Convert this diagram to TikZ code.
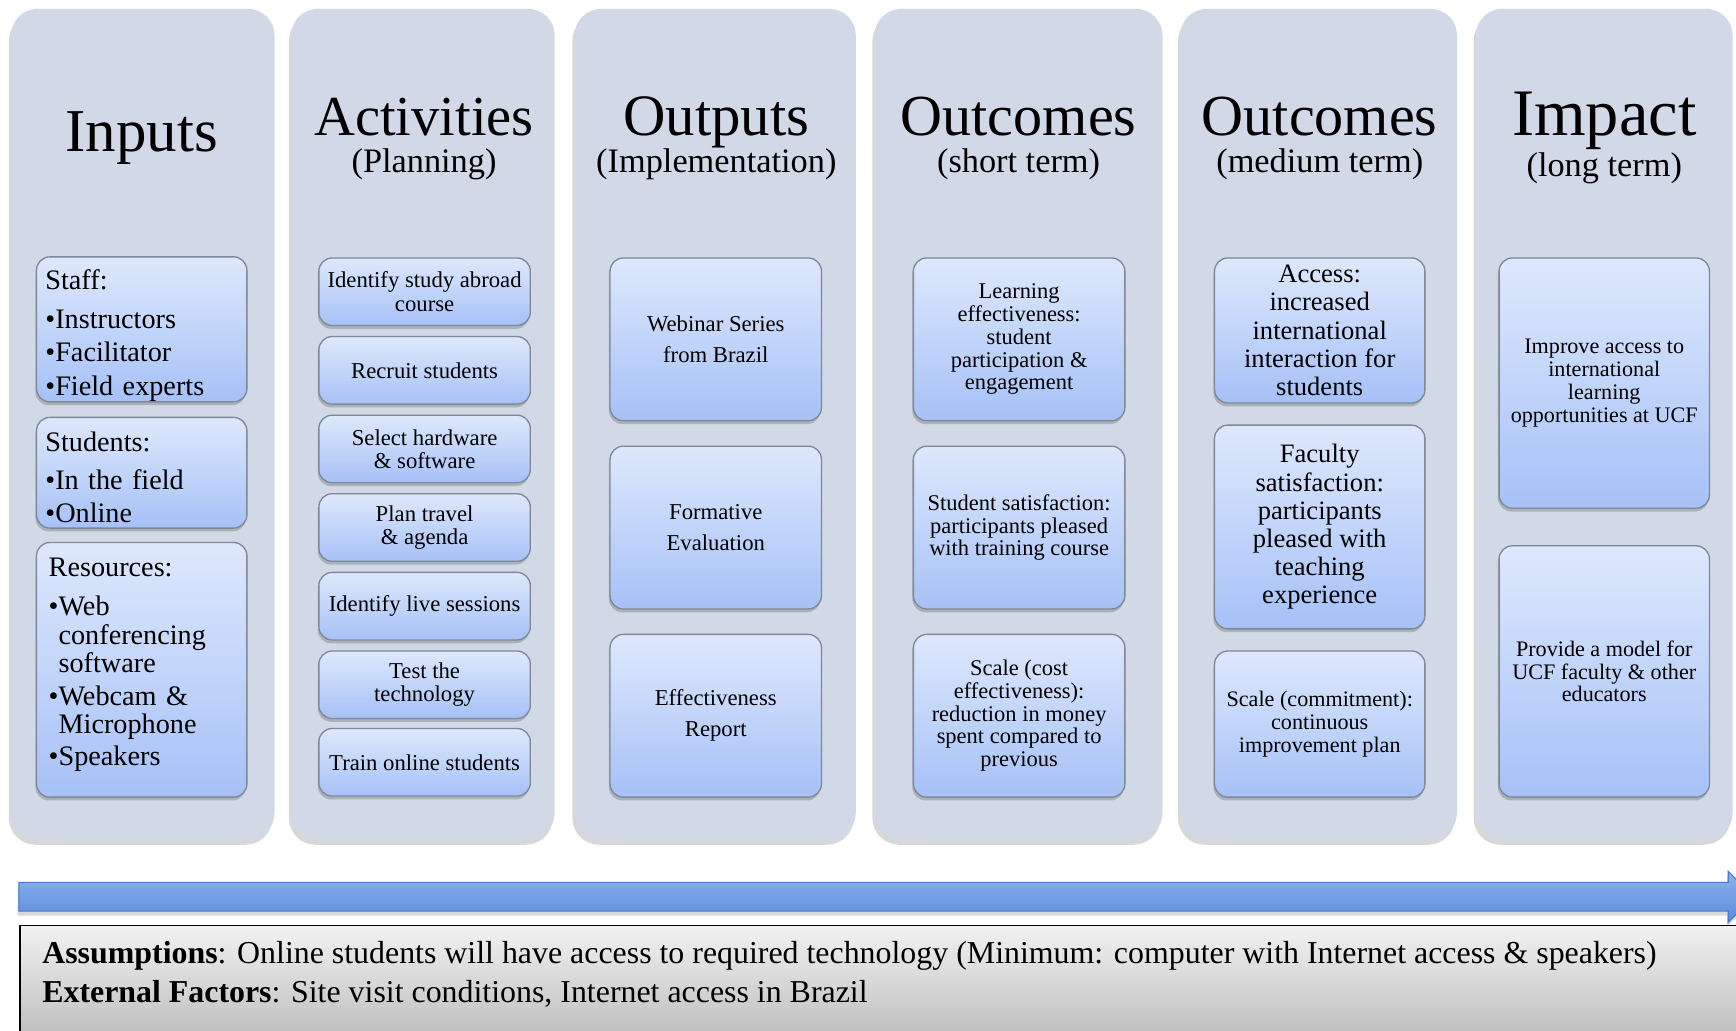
\documentclass[tikz,border=0pt]{standalone}
\usepackage{fontspec}
\setmainfont{Liberation Serif}
\usetikzlibrary{shadows}
\definecolor{panelc}{HTML}{D1D8E6}
\definecolor{boxtop}{HTML}{DEE8FC}
\definecolor{boxbot}{HTML}{A6C1F7}
\definecolor{boxline}{HTML}{7F8898}
\definecolor{arrtop}{HTML}{8DB3F2}
\definecolor{arrbot}{HTML}{5A8AD9}
\definecolor{arrline}{HTML}{4A77C2}
\definecolor{asmtop}{HTML}{F2F2F2}
\definecolor{asmbot}{HTML}{BEBEBE}
\newcommand{\fsz}[2]{\fontsize{#1}{#2}\selectfont}
\newcommand{\bl}{\hphantom{•}}
\begin{document}
\begin{tikzpicture}[x=1pt,y=-1pt,
  panelbox/.style={fill=panelc, rounded corners=24pt, inner sep=0pt,
    drop shadow={shadow xshift=-2pt,shadow yshift=-5pt,opacity=0.3}},
  ibox/.style={draw=boxline, line width=1.2pt, top color=boxtop, bottom color=boxbot,
    rounded corners=12pt, inner xsep=4pt, inner ysep=0pt, align=center,
    drop shadow={shadow xshift=-1pt,shadow yshift=-3pt,opacity=0.45}},
  lbox/.style={ibox, align=left, inner xsep=8pt, text width=174pt, minimum width=190pt},
  actbox/.style={ibox, minimum width=191pt, minimum height=61pt, font=\fsz{20.5}{21}},
  outbox/.style={ibox, minimum width=191pt, minimum height=147pt, font=\fsz{20.5}{28}},
  shbox/.style={ibox, minimum width=191pt, minimum height=147pt, font=\fsz{20.3}{20.5}},
  medbox/.style={ibox, minimum width=190pt, font=\fsz{24}{25.5}},
  impbox/.style={ibox, minimum width=190pt, font=\fsz{20}{20.5}},
  ttl/.style={anchor=base, font=\fsz{53}{53}},
  sub/.style={anchor=base, font=\fsz{31}{31}},
]
\clip (0,0) rectangle (1568,931);
\fill[white] (0,0) rectangle (1568,931);

% panels
\node[panelbox, minimum width=238pt, minimum height=750pt] (p1) at (129,383) {};
\node[panelbox, minimum width=238pt, minimum height=750pt] (p2) at (382,383) {};
\node[panelbox, minimum width=254pt, minimum height=750pt] (p3) at (646,383) {};
\node[panelbox, minimum width=260pt, minimum height=750pt] (p4) at (920,383) {};
\node[panelbox, minimum width=250pt, minimum height=750pt] (p5) at (1191,383) {};
\node[panelbox, minimum width=232pt, minimum height=750pt] (p6) at (1449,383) {};

% titles
\node[ttl, font=\fsz{55}{55}] (t1) at (128,137) {Inputs};
\node[ttl, font=\fsz{51}{51}] (t2) at (383,122) {Activities};
\node[sub] (s2) at (383,156) {(Planning)};
\node[ttl] (t3) at (647,122) {Outputs};
\node[sub] (s3) at (647,156) {(Implementation)};
\node[ttl, font=\fsz{52.5}{52.5}] (t4) at (920,122) {Outcomes};
\node[sub] (s4) at (920,156) {(short term)};
\node[ttl, font=\fsz{52.5}{52.5}] (t5) at (1192,122) {Outcomes};
\node[sub] (s5) at (1192,156) {(medium term)};
\node[ttl, font=\fsz{60}{60}] (t6) at (1449,122) {Impact};
\node[sub] (s6) at (1449,159) {(long term)};

% inputs
\node[lbox, minimum height=131pt, font=\fsz{25.5}{30}] (staff) at (128,297.5)
  {\rule{0pt}{29pt}Staff:\\[5pt]•Instructors\\•Facilitator\\•Field experts};
\node[lbox, minimum height=100pt, font=\fsz{25.5}{30}] (stud) at (128,427)
  {\rule{0pt}{26pt}Students:\\[4pt]•In the field\\•Online};
\node[lbox, minimum height=230pt, font=\fsz{25.5}{26}] (res) at (128,605)
  {\hspace{3pt}Resources:\\[9pt]\hspace{3pt}•Web\\\hspace{3pt}\bl conferencing\\\hspace{3pt}\bl software\\[3pt]\hspace{3pt}•Webcam \&\\\hspace{3pt}\bl Microphone\\[3pt]\hspace{3pt}•Speakers\rule[-14pt]{0pt}{14pt}};

% activities
\node[actbox] (a1) at (383.5,263.5) {Identify study abroad\\course};
\node[actbox] (a2) at (383.5,334.5) {Recruit students};
\node[actbox] (a3) at (383.5,405.5) {Select hardware\\\& software};
\node[actbox] (a4) at (383.5,476.5) {Plan travel\\\& agenda};
\node[actbox] (a5) at (383.5,547.5) {Identify live sessions};
\node[actbox] (a6) at (383.5,618.5) {Test the\\technology};
\node[actbox] (a7) at (383.5,688.5) {Train online students};

% outputs
\node[outbox] (o1) at (646.5,306.5) {Webinar Series\\from Brazil};
\node[outbox] (o2) at (646.5,476.5) {Formative\\Evaluation};
\node[outbox] (o3) at (646.5,646.5) {Effectiveness\\Report};

% short term outcomes
\node[shbox] (st1) at (920.5,306.5) {Learning\\effectiveness:\\student\\participation \&\\engagement};
\node[shbox] (st2) at (920.5,476.5) {Student satisfaction:\\participants pleased\\with training course};
\node[shbox] (st3) at (920.5,646.5) {Scale (cost\\effectiveness):\\reduction in money\\spent compared to\\previous};

% medium term outcomes
\node[medbox, minimum height=131pt] (m1) at (1192,298.5) {Access:\\increased\\international\\interaction for\\students};
\node[medbox, minimum height=184pt] (m2) at (1192,476) {Faculty\\satisfaction:\\participants\\pleased with\\teaching\\experience};
\node[medbox, minimum height=132pt, font=\fsz{20}{20.5}] (m3) at (1192,654) {Scale (commitment):\\continuous\\improvement plan};

% impact
\node[impbox, minimum height=226pt] (i1) at (1449,346) {Improve access to\\international\\learning\\opportunities at UCF};
\node[impbox, minimum height=227pt] (i2) at (1449,606.5) {Provide a model for\\UCF faculty \& other\\educators};

% timeline arrow
\path[draw=arrline, line width=1pt, top color=arrtop, bottom color=arrbot,
  drop shadow={shadow xshift=-1pt,shadow yshift=-4pt,opacity=0.3}]
  (17,797) -- (1561,797) -- (1561,787) -- (1584,810) -- (1561,833) -- (1561,823) -- (17,823) -- cycle;

% assumptions box
\path[draw=black, line width=1.5pt, top color=asmtop, bottom color=asmbot]
  (18,836) rectangle (1620,936);
\node[anchor=west, align=left, font=\fsz{28.8}{35}, inner sep=0pt] (asm) at (38,880)
  {\textbf{Assumptions}: Online students will have access to required technology (Minimum: computer with Internet access \& speakers)\\
   \textbf{External Factors}: Site visit conditions, Internet access in Brazil};
\end{tikzpicture}
\end{document}
